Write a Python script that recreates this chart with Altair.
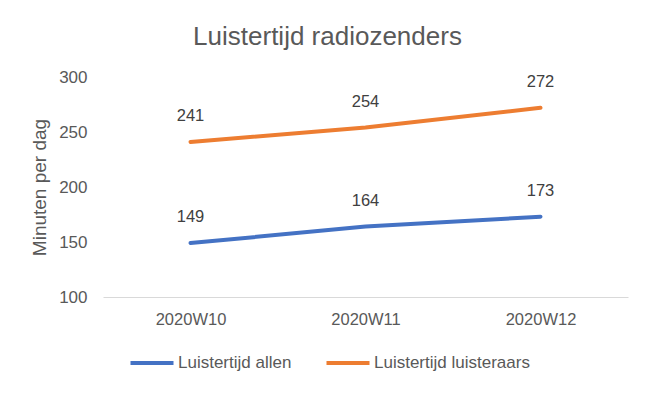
import altair as alt
import pandas as pd

weeks = ["2020W10", "2020W11", "2020W12"]
allen = [149, 164, 173]
luisteraars = [241, 254, 272]
series_names = ["Luistertijd allen", "Luistertijd luisteraars"]
colors = ["#4472C4", "#ED7D31"]

rows = []
for w, a, l in zip(weeks, allen, luisteraars):
    rows.append({"week": w, "serie": series_names[0], "waarde": a})
    rows.append({"week": w, "serie": series_names[1], "waarde": l})
df = pd.DataFrame(rows)

FONT = "Liberation Sans"
GREY = "#595959"

x = alt.X("week:N", sort=weeks, title=None,
          scale=alt.Scale(paddingInner=0, paddingOuter=0.5, padding=0.5),
          axis=alt.Axis(labelAngle=0, labelFontSize=16.5, labelColor=GREY, labelFont=FONT,
                        ticks=False, domain=True, domainColor="#D9D9D9", domainWidth=1,
                        labelPadding=14, grid=False))
y = alt.Y("waarde:Q", title="Minuten per dag",
          scale=alt.Scale(domain=[100, 300], nice=False, zero=False),
          axis=alt.Axis(values=[100, 150, 200, 250, 300], labelFontSize=17, labelColor=GREY,
                        labelFont=FONT, ticks=False, domain=False, grid=False,
                        labelPadding=16, titleFontSize=19, titleColor=GREY, titleFont=FONT,
                        titleFontWeight="normal", titlePadding=9))
color = alt.Color("serie:N", sort=series_names,
                  scale=alt.Scale(domain=series_names, range=colors),
                  legend=alt.Legend(title=None, orient="none", direction="horizontal",
                                    legendX=25, legendY=262, symbolType="stroke",
                                    symbolSize=1850, symbolStrokeWidth=4,
                                    labelFontSize=17, labelColor=GREY, labelFont=FONT,
                                    labelOffset=2, columnPadding=26))

base = alt.Chart(df)
lines = base.mark_line(strokeWidth=4, strokeCap="round").encode(x=x, y=y, color=color)
labels = base.mark_text(dy=-26, fontSize=16.5, color="#404040", font=FONT).encode(
    x=alt.X("week:N", sort=weeks), y="waarde:Q", text="waarde:Q")

chart = (lines + labels).properties(
    width=525, height=220,
    autosize=alt.AutoSizeParams(type="none"),
    padding={"left": 95, "top": 69, "right": 16, "bottom": 92},
    title=alt.TitleParams("Luistertijd radiozenders", fontSize=26, color=GREY, font=FONT,
                          fontWeight="normal", anchor="middle", dx=-38, offset=18),
).configure_view(stroke=None)

chart.save("out.html", embed_options={"renderer": "svg", "actions": False})
